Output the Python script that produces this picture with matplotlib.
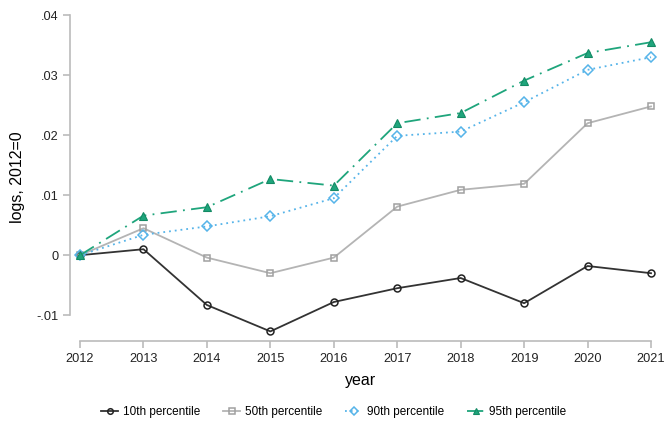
import numpy as np
import matplotlib.pyplot as plt

years = np.arange(2012, 2022)
p10 = [0.0, 0.0010, -0.0083, -0.0127, -0.0078, -0.0055, -0.0038, -0.0080, -0.0018, -0.0030]
p50 = [0.0, 0.0045, -0.0004, -0.0030, -0.0004, 0.0081, 0.0109, 0.0119, 0.0220, 0.0248]
p90 = [0.0, 0.0034, 0.0048, 0.0065, 0.0095, 0.0199, 0.0206, 0.0255, 0.0309, 0.0330]
p95 = [0.0, 0.0066, 0.0080, 0.0127, 0.0116, 0.0220, 0.0237, 0.0291, 0.0337, 0.0355]

yticks = [-0.01, 0, 0.01, 0.02, 0.03, 0.04]
ytick_labels = ["-.01", "0", ".01", ".02", ".03", ".04"]

plt.rcParams['font.family'] = ['Liberation Sans', 'DejaVu Sans']

fig = plt.figure(figsize=(6.65, 4.21), dpi=100)
ax = fig.add_axes([0.1053, 0.190, 0.979 - 0.1053, 0.9667 - 0.190])

lw = 1.3
ax.plot(years, p10, color='#333333', lw=lw, marker='o', ms=5, mfc='none',
        mec='#222222', mew=1.1, label='10th percentile', clip_on=False)
ax.plot(years, p50, color='#b4b4b4', lw=lw, marker='s', ms=5, mfc='none',
        mec='#a0a0a0', mew=1.1, label='50th percentile', clip_on=False)
ax.plot(years, p90, color='#56b4e9', lw=lw, ls=(0, (1, 2.2)), marker='D', ms=5, mfc='none',
        mec='#56b4e9', mew=1.1, label='90th percentile', clip_on=False)
ax.plot(years, p95, color='#1fa57c', lw=lw, ls=(0, (9, 3.5, 1, 3.5)), marker='^', ms=5.5,
        mfc='#1fa57c', mec='#138a64', mew=0.8, label='95th percentile', clip_on=False)

ax.set_xlim(2012 - 10 / 63.4, 2021)
ax.set_ylim(-0.0143, 0.0402)
ax.set_xticks(years)
ax.set_yticks(yticks)
ax.set_yticklabels(ytick_labels)

for s in ['top', 'right']:
    ax.spines[s].set_visible(False)
for s in ['left', 'bottom']:
    ax.spines[s].set_color('#bbbbbb')
    ax.spines[s].set_linewidth(1.2)
ax.spines['bottom'].set_bounds(2012, 2021)
ax.spines['left'].set_bounds(-0.01, 0.04)
ax.tick_params(axis='both', colors='#bbbbbb', length=5, width=1.2, labelcolor='#222222',
               labelsize=9.2)

ax.set_xlabel('year', fontsize=11.5, labelpad=6)
ax.set_ylabel('logs, 2012=0', fontsize=11.5, labelpad=8)

leg = fig.legend(loc='center', bbox_to_anchor=(0.502, 0.022), ncol=4, frameon=False,
                 fontsize=8.5, handlelength=1.4, columnspacing=1.95, handletextpad=0.45,
                 markerscale=0.8)

fig.savefig('out.png', dpi=100)
